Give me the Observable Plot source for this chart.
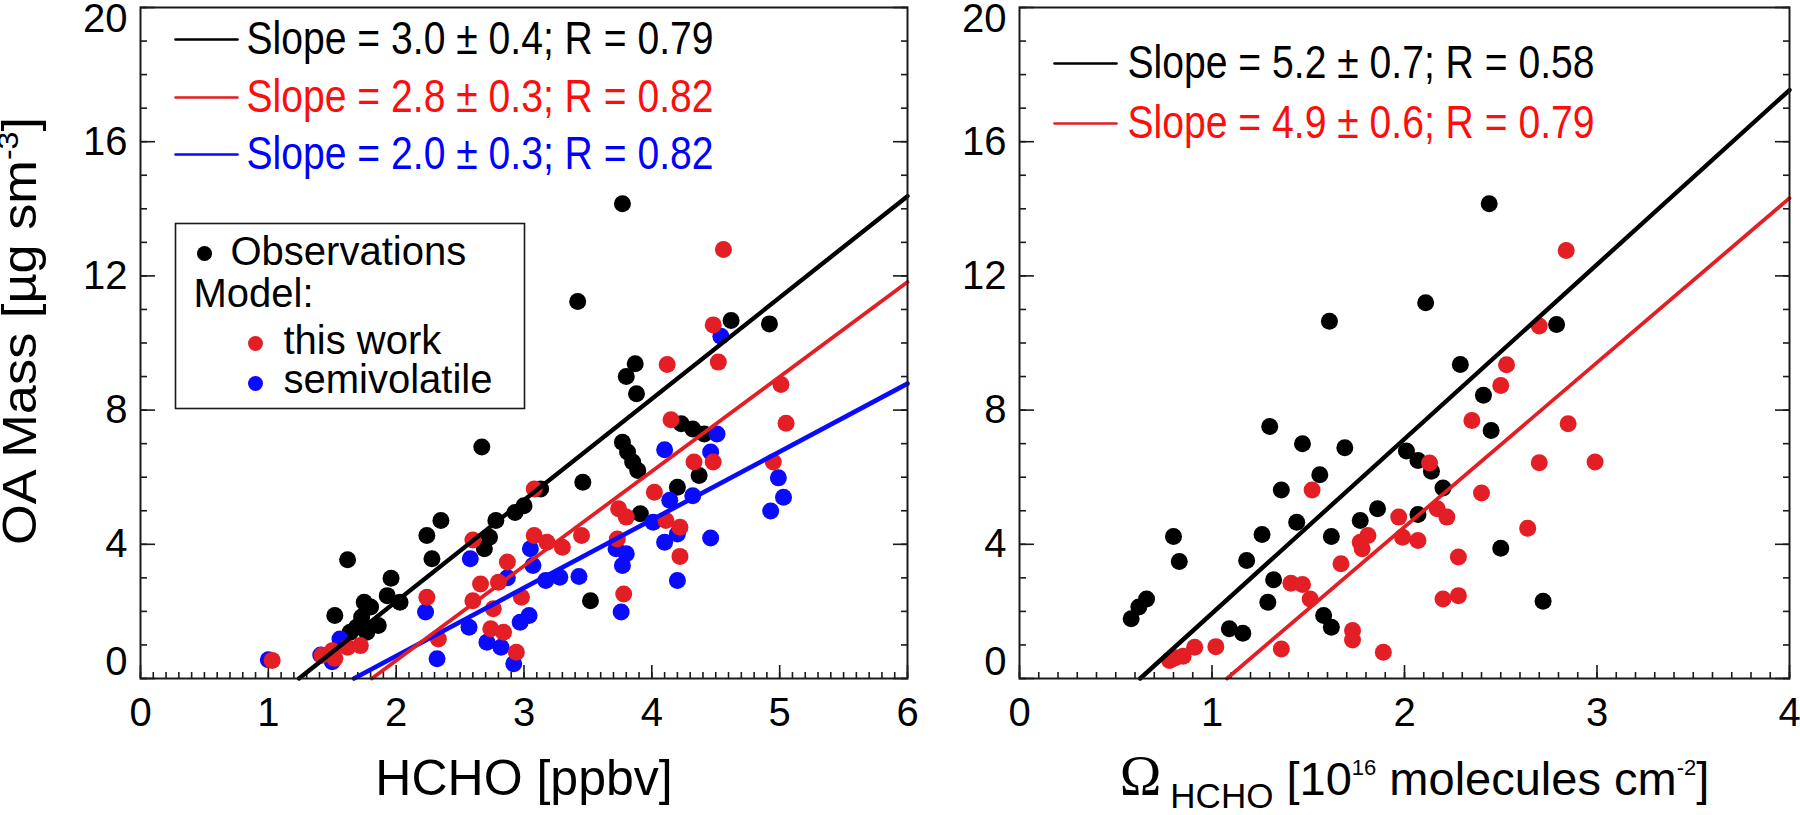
<!DOCTYPE html>
<html>
<head>
<meta charset="utf-8">
<script src="https://cdn.jsdelivr.net/npm/d3@7"></script>
<script src="https://cdn.jsdelivr.net/npm/@observablehq/plot@0.6"></script>
<style>
html, body { margin: 0; padding: 0; background: #fff; }
#wrap { display: flex; width: 1800px; height: 815px; overflow: hidden; }
</style>
</head>
<body>
<div id="wrap"></div>
<script>
// ---------------- data ----------------
// Left panel: HCHO [ppbv] vs OA mass
const leftObsX = [1.52,1.62,1.64,1.69,1.73,1.75,1.77,1.80,1.86,1.93,1.96,2.03,2.24,2.28,2.35,2.67,2.69,2.73,2.78,2.93,3.00,3.13,3.42,3.46,3.52,3.77,3.77,3.80,3.81,3.85,3.87,3.88,3.89,3.91,4.20,4.23,4.32,4.37,4.41,4.62,4.92];
const leftObsY = [1.88,3.54,1.38,1.53,1.83,2.27,1.38,2.13,1.58,2.47,2.99,2.27,4.26,3.57,4.71,6.90,3.87,4.21,4.71,4.95,5.15,5.65,11.24,5.85,2.32,14.15,7.04,9.00,6.75,6.45,9.38,8.49,6.20,4.91,5.70,7.59,7.44,6.05,7.29,10.67,10.57];
const leftModelX = [1.03,1.42,1.50,1.52,1.62,1.72,2.24,2.33,2.60,2.60,2.66,2.74,2.76,2.80,2.84,2.87,2.94,2.98,3.08,3.08,3.18,3.30,3.45,3.73,3.74,3.78,3.80,4.02,4.11,4.12,4.15,4.22,4.22,4.33,4.48,4.48,4.52,4.56,4.95,5.01,5.05];
const leftModelY = [0.54,0.69,0.83,0.60,0.93,0.98,2.42,1.18,4.13,2.32,2.82,1.48,2.08,2.87,1.38,3.47,0.78,2.42,5.65,4.26,4.06,3.91,4.26,4.16,5.06,2.52,4.81,5.55,4.71,9.36,7.71,4.51,3.64,6.45,6.45,10.54,9.43,12.79,6.45,8.76,7.61];
const leftSemiX = [1.00,1.41,1.50,1.56,2.23,2.32,2.57,2.58,2.71,2.82,2.87,2.92,2.97,3.04,3.05,3.07,3.17,3.28,3.43,3.72,3.76,3.77,3.80,4.01,4.10,4.10,4.14,4.20,4.20,4.32,4.46,4.46,4.51,4.54,4.93,4.99,5.03];
const leftSemiY = [0.56,0.70,0.50,1.18,1.98,0.59,1.53,3.57,1.08,0.93,3.00,0.44,1.68,1.88,3.87,3.37,2.92,3.02,3.04,3.87,1.98,3.37,3.72,4.66,4.06,6.82,5.31,4.31,2.92,5.45,4.19,6.75,7.29,10.20,4.99,5.98,5.40];

// Right panel: Omega HCHO column vs OA mass
const rightObsX = [0.58,0.62,0.66,0.80,0.83,1.09,1.16,1.18,1.26,1.29,1.30,1.32,1.36,1.44,1.47,1.58,1.62,1.56,1.61,1.62,1.69,1.77,1.86,2.01,2.07,2.07,2.11,2.14,2.20,2.29,2.41,2.44,2.45,2.50,2.72,2.79];
const rightObsY = [1.78,2.13,2.37,4.23,3.49,1.48,1.35,3.52,4.29,2.27,7.51,2.94,5.62,4.66,7.00,1.88,1.53,6.07,10.65,4.23,6.88,4.71,5.06,6.78,4.89,6.50,11.20,6.18,5.68,9.36,8.44,14.15,7.39,3.88,2.30,10.55];
const rightModelX = [0.78,0.81,0.85,0.91,1.02,1.36,1.41,1.47,1.51,1.52,1.67,1.73,1.73,1.77,1.78,1.81,1.89,1.97,1.99,2.07,2.13,2.17,2.20,2.22,2.28,2.28,2.35,2.40,2.50,2.53,2.64,2.70,2.70,2.84,2.85,2.99];
const rightModelY = [0.54,0.62,0.66,0.93,0.95,0.88,2.84,2.80,2.37,5.62,3.42,1.43,1.15,4.06,3.87,4.26,0.78,4.81,4.21,4.11,6.42,5.06,2.37,4.81,2.47,3.62,7.69,5.53,8.73,9.35,4.48,6.43,10.51,12.76,7.59,6.45];

// Fit lines (slope and x-intercept, as drawn)
const leftFitSlope = [3.02, 2.82, 2.03];
const leftFitX0 = [1.24, 1.81, 1.67];
const rightFitSlope = [5.2, 4.9];
const rightFitX0 = [0.627, 1.078];

// Legend texts
const leftLegend = ["Slope = 3.0 \u00b1 0.4; R = 0.79", "Slope = 2.8 \u00b1 0.3; R = 0.82", "Slope = 2.0 \u00b1 0.3; R = 0.82"];
const rightLegend = ["Slope = 5.2 \u00b1 0.7; R = 0.58", "Slope = 4.9 \u00b1 0.6; R = 0.79"];
const boxLabels = ["Observations", "Model:", "this work", "semivolatile"];

// Ticks
const leftXTicks = [0, 1, 2, 3, 4, 5, 6];
const rightXTicks = [0, 1, 2, 3, 4];
const yTicks = [0, 4, 8, 12, 16, 20];
const yMidLabels = [4, 8, 12, 16];

const leftXTitle = "HCHO [ppbv]";
const yTitleKey = "OA Mass [\u00b5g sm-3]";
const rightXTitleKey = "OMEGA_HCHO_TITLE";

// ---------------- styles ----------------
const FONT = "'Liberation Sans', Arial, Helvetica, sans-serif";
const NARROW = "'Liberation Sans Narrow', 'Arial Narrow', 'Liberation Sans', Arial, sans-serif";
const RED = "#e31e24", BLUE = "#0a0aff", BLACK = "#000000";
const TXT_RED = "#ff0d0d", TXT_BLUE = "#0000ff";
const FRAME = "#1a1a1a";

const pts = (xs, ys) => xs.map((x, i) => ({x, y: ys[i]}));
const fitLine = (slope, x0, xmax) => [{x: x0, y: 0}, {x: xmax, y: slope * (xmax - x0)}];
const lineShape = {draw(ctx, l) { ctx.moveTo(0, 0); ctx.lineTo(0, -l); }};
const intFmt = d => `${d}`;

function axesMarks(xMax, xTicks) {
  const minorX = d3.range(0, Math.round(xMax * 10) + 1).map(i => i / 10);
  const minorY = d3.range(0, 21);
  const tk = {fill: "none", stroke: FRAME, strokeWidth: 1.6, label: null};
  const lb = {tickSize: 0, fontSize: 40, fill: "#000", label: null, fontFamily: FONT, tickFormat: intFmt};
  return [
    Plot.axisX(minorX, {anchor: "bottom", tickSize: -6, ...tk}),
    Plot.axisX(xTicks, {anchor: "bottom", tickSize: -13, ...tk}),
    Plot.axisY(minorY, {anchor: "left", tickSize: -7, ...tk}),
    Plot.axisY(yTicks, {anchor: "left", tickSize: -15, ...tk}),
    Plot.axisY(minorY, {anchor: "right", tickSize: -7, ...tk}),
    Plot.axisY(yTicks, {anchor: "right", tickSize: -15, ...tk}),
    Plot.axisX(xTicks, {anchor: "bottom", tickPadding: 19, ...lb}),
    Plot.axisY(yMidLabels, {anchor: "left", tickPadding: 13, ...lb}),
    Plot.axisY([0], {anchor: "left", tickPadding: 13, dy: -16, ...lb}),
    Plot.axisY([20], {anchor: "left", tickPadding: 13, dy: 12, ...lb})
  ];
}

function legendRow(label, dy, lineColor, textColor, textDx) {
  return [
    Plot.vector([0], {frameAnchor: "top-left", dx: 35, dy, length: 62, rotate: 90, anchor: "start",
      shape: lineShape, stroke: lineColor, strokeWidth: 2.6}),
    Plot.text([label], {text: d => d, frameAnchor: "top-left", dx: textDx, dy, textAnchor: "start",
      lineAnchor: "middle", fontSize: 46, fill: textColor, fontFamily: NARROW})
  ];
}

// ---------------- left panel ----------------
const left = Plot.plot({
  width: 960, height: 815,
  marginLeft: 140, marginRight: 53, marginTop: 7, marginBottom: 137,
  x: {domain: [0, 6]},
  y: {domain: [0, 20]},
  style: {fontFamily: FONT, background: "white", overflow: "visible", color: "#000"},
  marks: [
    ...axesMarks(6, leftXTicks),
    Plot.dot(pts(leftObsX, leftObsY), {x: "x", y: "y", r: 8.5, fill: BLACK}),
    Plot.dot(pts(leftSemiX, leftSemiY), {x: "x", y: "y", r: 8.5, fill: BLUE}),
    Plot.dot(pts(leftModelX, leftModelY), {x: "x", y: "y", r: 8.5, fill: RED}),
    Plot.line(fitLine(leftFitSlope[2], leftFitX0[2], 6), {x: "x", y: "y", stroke: BLUE, strokeWidth: 4.6}),
    Plot.line(fitLine(leftFitSlope[1], leftFitX0[1], 6), {x: "x", y: "y", stroke: RED, strokeWidth: 3.8}),
    Plot.line(fitLine(leftFitSlope[0], leftFitX0[0], 6), {x: "x", y: "y", stroke: BLACK, strokeWidth: 4.4}),
    Plot.frame({stroke: FRAME, strokeWidth: 2}),
    ...legendRow(leftLegend[0], 32, BLACK, BLACK, 106),
    ...legendRow(leftLegend[1], 90, RED, TXT_RED, 106),
    ...legendRow(leftLegend[2], 147, BLUE, TXT_BLUE, 106),
    // legend box
    Plot.frame({stroke: FRAME, strokeWidth: 1.6, fill: "white", insetLeft: 35, insetTop: 216, insetRight: 383, insetBottom: 270}),
    Plot.dot([0], {frameAnchor: "top-left", dx: 64, dy: 246, r: 7.5, fill: BLACK}),
    Plot.dot([0], {frameAnchor: "top-left", dx: 115, dy: 336, r: 7.5, fill: RED}),
    Plot.dot([0], {frameAnchor: "top-left", dx: 115, dy: 376, r: 7.5, fill: BLUE}),
    Plot.text([boxLabels[0]], {text: d => d, frameAnchor: "top-left", dx: 90, dy: 245, textAnchor: "start", lineAnchor: "middle", fontSize: 40, fill: "#000"}),
    Plot.text([boxLabels[1]], {text: d => d, frameAnchor: "top-left", dx: 53, dy: 287, textAnchor: "start", lineAnchor: "middle", fontSize: 40, fill: "#000"}),
    Plot.text([boxLabels[2]], {text: d => d, frameAnchor: "top-left", dx: 143, dy: 334, textAnchor: "start", lineAnchor: "middle", fontSize: 40, fill: "#000"}),
    Plot.text([boxLabels[3]], {text: d => d, frameAnchor: "top-left", dx: 143, dy: 373, textAnchor: "start", lineAnchor: "middle", fontSize: 40, fill: "#000"}),
    // axis titles
    Plot.text([leftXTitle], {text: d => d, frameAnchor: "bottom", dy: 100, textAnchor: "middle", lineAnchor: "middle", fontSize: 50, fill: "#000"}),
    Plot.text([yTitleKey], {text: d => d, frameAnchor: "left", dx: -120, dy: -12, rotate: -90, textAnchor: "middle", lineAnchor: "middle", fontSize: 49, fill: "#000"})
  ]
});

// ---------------- right panel ----------------
const right = Plot.plot({
  width: 840, height: 815,
  marginLeft: 59, marginRight: 11, marginTop: 7, marginBottom: 137,
  x: {domain: [0, 4]},
  y: {domain: [0, 20]},
  style: {fontFamily: FONT, background: "white", overflow: "visible", color: "#000"},
  marks: [
    ...axesMarks(4, rightXTicks),
    Plot.dot(pts(rightObsX, rightObsY), {x: "x", y: "y", r: 8.5, fill: BLACK}),
    Plot.dot(pts(rightModelX, rightModelY), {x: "x", y: "y", r: 8.5, fill: RED}),
    Plot.line(fitLine(rightFitSlope[1], rightFitX0[1], 4), {x: "x", y: "y", stroke: RED, strokeWidth: 3.8}),
    Plot.line(fitLine(rightFitSlope[0], rightFitX0[0], 4), {x: "x", y: "y", stroke: BLACK, strokeWidth: 4.4}),
    Plot.frame({stroke: FRAME, strokeWidth: 2}),
    ...legendRow(rightLegend[0], 56, BLACK, BLACK, 108),
    ...legendRow(rightLegend[1], 116, RED, TXT_RED, 108),
    Plot.text([rightXTitleKey], {text: d => d, frameAnchor: "bottom", dx: 10, dy: 100, textAnchor: "middle", lineAnchor: "middle", fontSize: 50, fill: "#000"})
  ]
});

// ---------------- rich text post-processing ----------------
function rich(svg, key, parts) {
  d3.select(svg).selectAll("text").filter(function () { return this.textContent === key; }).each(function () {
    const t = d3.select(this);
    t.text(null);
    for (const p of parts) {
      const s = t.append("tspan").text(p.t);
      if (p.size) s.attr("font-size", p.size);
      if (p.dy) s.attr("dy", p.dy);
      if (p.dx) s.attr("dx", p.dx);
      if (p.family) s.attr("font-family", p.family);
    }
  });
}
rich(left, yTitleKey, [
  {t: "OA Mass [\u00b5g sm"},
  {t: "-3", size: 30, dy: -18},
  {t: "]", dy: 18}
]);
rich(right, rightXTitleKey, [
  {t: "\u03a9", size: 56, family: "'Liberation Serif', 'Times New Roman', serif"},
  {t: "HCHO", size: 35, dy: 13, dx: 9},
  {t: " [10", size: 47, dy: -13},
  {t: "16", size: 22, dy: -20},
  {t: " molecules cm", size: 47, dy: 20},
  {t: "-2", size: 22, dy: -20},
  {t: "]", size: 47, dy: 20}
]);
for (const svg of [left, right]) {
  d3.select(svg).selectAll("text").filter(function () { return this.textContent.startsWith("Slope"); })
    .attr("textLength", 467).attr("lengthAdjust", "spacingAndGlyphs");
}
d3.select(left).selectAll("text").filter(function () { return this.textContent.startsWith("OA Mass"); })
  .attr("textLength", 428).attr("lengthAdjust", "spacingAndGlyphs");

document.getElementById("wrap").append(left, right);
</script>
</body>
</html>
